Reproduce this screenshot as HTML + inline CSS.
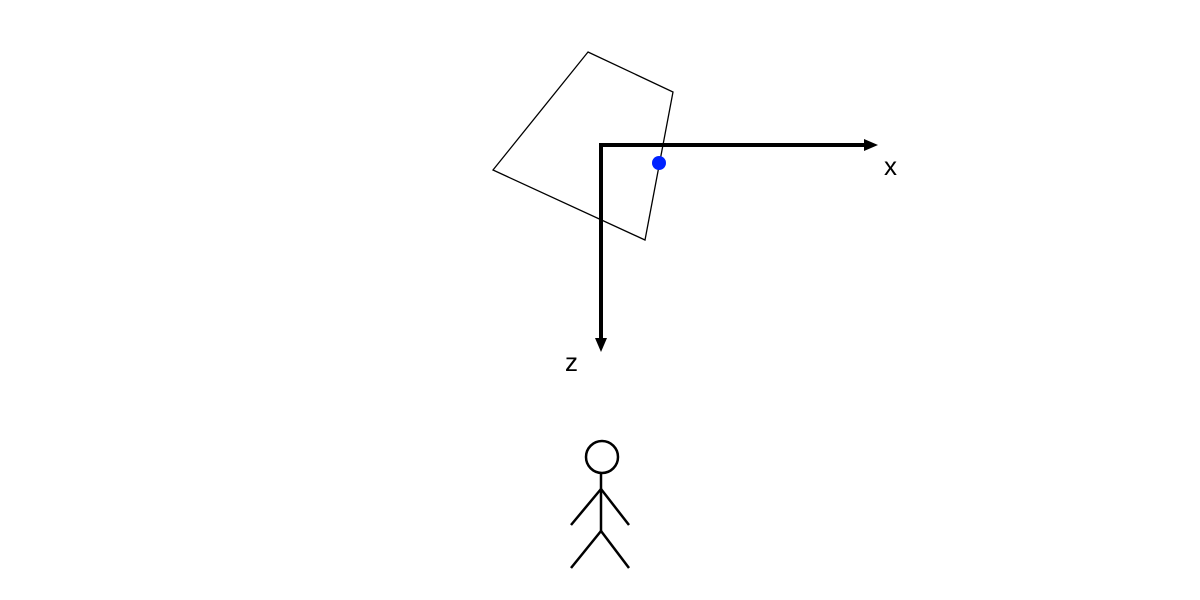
<!DOCTYPE html>
<html><head><meta charset="utf-8"><style>body{margin:0;background:#fff}svg{display:block}</style></head>
<body>
<svg width="1200" height="600" font-family="Liberation Sans, sans-serif">
<polygon points="588,52 673,92 645,240 493,170" fill="none" stroke="#000" stroke-width="1.3"/>
<g>
<line x1="601" y1="145" x2="866" y2="145" stroke="#000" stroke-width="4"/>
<polygon points="878,145 864,139 864,151" fill="#000"/>
</g>
<g>
<line x1="601" y1="143" x2="601" y2="340" stroke="#000" stroke-width="4"/>
<polygon points="601,352 595,338 607,338" fill="#000"/>
</g>
<text x="884" y="175" font-size="26">x</text>
<text x="565" y="371" font-size="26">z</text>
<circle cx="659" cy="163" r="7" fill="#0022ff"/>
<g stroke="#000" stroke-width="2.5" fill="none">
<circle cx="602" cy="457" r="16"/>
<line x1="601" y1="473" x2="601" y2="531"/>
<line x1="601" y1="489" x2="571" y2="525"/>
<line x1="601" y1="489" x2="629" y2="525"/>
<line x1="601" y1="531" x2="571" y2="568"/>
<line x1="601" y1="531" x2="629" y2="568"/>
</g>
</svg>
</body></html>
